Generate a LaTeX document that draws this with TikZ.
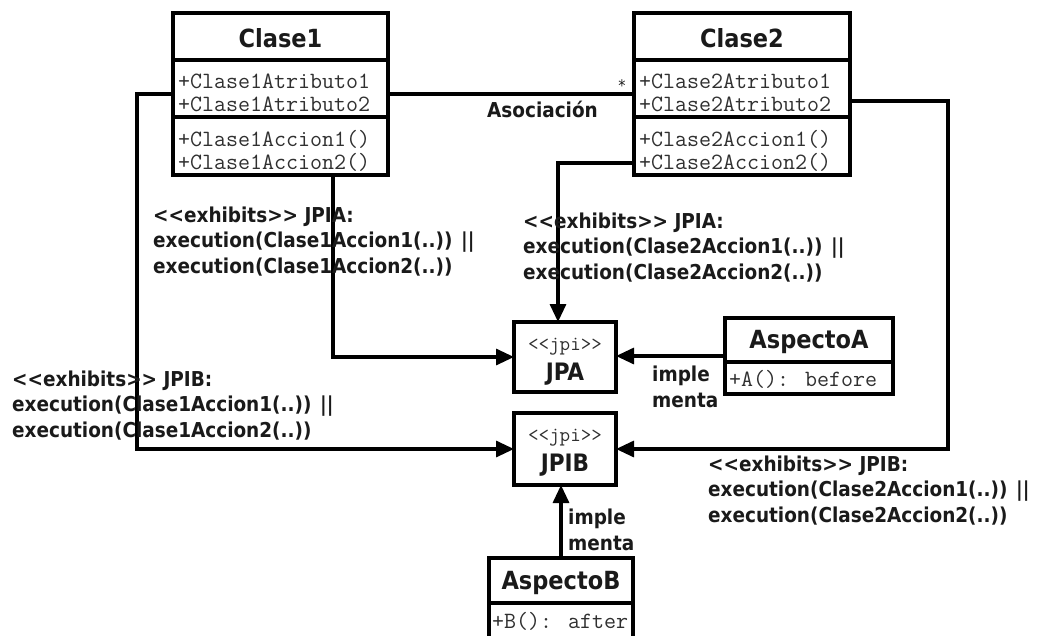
\documentclass[tikz,border=0pt]{standalone}
\usepackage{fontspec}
\newfontfamily\lblfont{DejaVu Sans Condensed}
\usetikzlibrary{arrows.meta}
\definecolor{ink}{HTML}{1A1A1A}
\definecolor{monoc}{HTML}{303030}
\begin{document}
\begin{tikzpicture}[x=1pt,y=-1pt,
  box/.style={draw=black,line width=3.2pt,inner sep=0,outer sep=0},
  title/.style={font=\lblfont\bfseries\fontsize{25}{25}\selectfont,text=ink,inner sep=0,anchor=base},
  memb/.style={font=\ttfamily\fontsize{23.3}{23.3}\selectfont,text=monoc,inner sep=0,anchor=base west},
  stereo/.style={font=\ttfamily\fontsize{20.5}{20.5}\selectfont,text=monoc,inner sep=0,anchor=base},
  lbl/.style={font=\lblfont\bfseries\fontsize{20.5}{25.5}\selectfont,text=ink,inner sep=0,anchor=base west,align=left},
  conn/.style={line width=3.2pt,-{Triangle[length=18pt,width=16pt]}},
  plain/.style={line width=3.2pt}
]
\useasboundingbox[fill=white] (0,0) rectangle (1041,635);

% Clase1
\node[box,minimum width=215,minimum height=162] (c1) at (280.5,94) {};
\draw[plain] (173,60) -- (388,60);
\draw[plain] (173,117) -- (388,117);
\node[title] (c1n) at (280.5,47) {Clase1};
\node[memb] (c1a1) at (178,88) {+Clase1Atributo1};
\node[memb] (c1a2) at (178,111) {+Clase1Atributo2};
\node[memb] (c1m1) at (178,146) {+Clase1Accion1()};
\node[memb] (c1m2) at (178,169) {+Clase1Accion2()};

% Clase2
\node[box,minimum width=216,minimum height=162] (c2) at (742,94) {};
\draw[plain] (634,60) -- (850,60);
\draw[plain] (634,117) -- (850,117);
\node[title] (c2n) at (742,47) {Clase2};
\node[memb] (c2a1) at (639,88) {+Clase2Atributo1};
\node[memb] (c2a2) at (639,111) {+Clase2Atributo2};
\node[memb] (c2m1) at (639,146) {+Clase2Accion1()};
\node[memb] (c2m2) at (639,169) {+Clase2Accion2()};

% JPA, JPIB
\node[box,minimum width=102,minimum height=70] (jpa) at (565,357) {};
\node[stereo] (jpas) at (565,350) {<<jpi>>};
\node[title,font=\lblfont\bfseries\fontsize{24}{24}\selectfont] (jpan) at (565,380) {JPA};
\node[box,minimum width=102,minimum height=72] (jpib) at (565,449) {};
\node[stereo] (jpibs) at (565,441) {<<jpi>>};
\node[title,font=\lblfont\bfseries\fontsize{24}{24}\selectfont] (jpibn) at (565,471) {JPIB};

% AspectoA
\node[box,minimum width=168,minimum height=76] (asa) at (809,356) {};
\draw[plain] (725,362) -- (893,362);
\node[title] (asan) at (809,348) {AspectoA};
\node[memb] (asam) at (729,386) {+A(): before};

% AspectoB
\node[box,minimum width=144,minimum height=84] (asb) at (561,600) {};
\draw[plain] (489,603) -- (633,603);
\node[title] (asbn) at (561,589) {AspectoB};
\node[memb] (asbm) at (492,628) {+B(): after};

% connectors
\draw[plain] (c1.east) -- (c2.west);
\node[lbl] (asoc) at (487,117) {Asociación};
\node[font=\lblfont\fontsize{16}{16}\selectfont,text=ink,inner sep=0] (star) at (622,86) {*};

\draw[conn] (c1.west) -- ++(-36,0) |- (jpib.west);
\coordinate (c1b) at (333,175);
\draw[conn] (c1b) |- (jpa.west);
\coordinate (c2l) at (634,163);
\draw[conn] (c2l) -| ([xshift=-7pt]jpa.north);
\coordinate (c2r) at (850,101);
\draw[conn] (c2r) -- ++(98,0) |- (jpib.east);
\draw[conn] (asa.west) -- (asa.west -| jpa.east);
\draw[conn] (asb.north) -- (asb.north |- jpib.south);

% labels (anchor = baseline of last line)
\node[lbl] (l1) at (153,273) {<<exhibits>> JPIA:\\execution(Clase1Accion1(..)) ||\\execution(Clase1Accion2(..))};
\node[lbl] (l2) at (12,437) {<<exhibits>> JPIB:\\execution(Clase1Accion1(..)) ||\\execution(Clase1Accion2(..))};
\node[lbl] (l3) at (523,279) {<<exhibits>> JPIA:\\execution(Clase2Accion1(..)) ||\\execution(Clase2Accion2(..))};
\node[lbl] (l4) at (708,522) {<<exhibits>> JPIB:\\execution(Clase2Accion1(..)) ||\\execution(Clase2Accion2(..))};
\node[lbl] (i1) at (652,407) {imple\\menta};
\node[lbl] (i2) at (568,550) {imple\\menta};
\end{tikzpicture}
\end{document}
